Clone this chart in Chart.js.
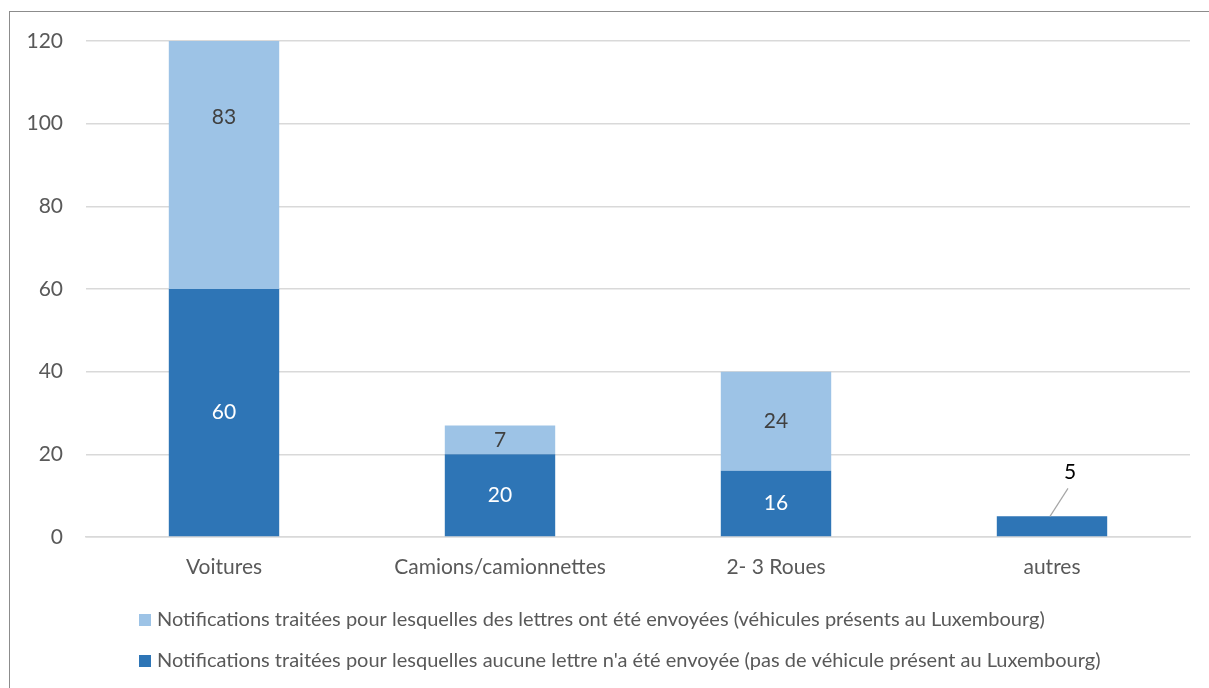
<!DOCTYPE html>
<html>
<head>
<meta charset="utf-8">
<script src="https://cdn.jsdelivr.net/npm/chart.js@4"></script>
<style>
  html, body { margin: 0; padding: 0; background: #fff; }
  #wrap { position: relative; width: 1209px; height: 688px; overflow: hidden; }
  #frame { position: absolute; left: 9px; top: 11px; width: 1300px; height: 800px; border: 1.5px solid #8c8c8c; }
  canvas { position: absolute; left: 0; top: 0; }
</style>
</head>
<body>
<div id="wrap">
  <div id="frame"></div>
  <canvas id="chart" width="1209" height="688"></canvas>
</div>
<script>
// Chart data
const categories = ['Voitures', 'Camions/camionnettes', '2- 3 Roues', 'autres'];
const sansLettre = [60, 20, 16, 5];   // dark blue, bottom of the stack
const avecLettre = [83, 7, 24, 0];    // light blue, top of the stack
const yTicks = [0, 20, 40, 60, 80, 100, 120];

const labelSansLettre = "Notifications traitées pour lesquelles aucune lettre n'a été envoyée (pas de véhicule présent au Luxembourg)";
const labelAvecLettre = 'Notifications traitées pour lesquelles des lettres ont été envoyées (véhicules présents au Luxembourg)';

const FONT = 'Lato, "Open Sans", sans-serif';

// Draws the value labels in the middle of each bar, and moves small ones out with a leader line
const valueLabels = {
    id: 'valueLabels',
    afterDatasetsDraw(chart) {
        const ctx = chart.ctx;
        ctx.save();
        ctx.font = '21px ' + FONT;
        ctx.textAlign = 'center';
        ctx.textBaseline = 'middle';
        chart.data.datasets.forEach((ds, i) => {
            const meta = chart.getDatasetMeta(i);
            meta.data.forEach((bar, j) => {
                const v = ds.data[j];
                if (!v) return;
                const h = Math.abs(bar.base - bar.y);
                const x = bar.x;
                if (h < 24) {
                    // label moved above the bar
                    const tx = x + 18, ty = bar.y - 44;
                    ctx.strokeStyle = '#a6a6a6';
                    ctx.lineWidth = 1.2;
                    ctx.beginPath();
                    ctx.moveTo(x - 2, bar.y);
                    ctx.lineTo(tx - 2, ty + 16);
                    ctx.stroke();
                    ctx.fillStyle = '#000';
                    ctx.fillText(v, tx, ty);
                } else {
                    ctx.fillStyle = ds.labelColor;
                    ctx.fillText(v, x, (bar.y + bar.base) / 2);
                }
            });
        });
        ctx.restore();
    }
};

// Legend in one column, each row left aligned
const columnLegend = {
    id: 'columnLegend',
    afterDraw(chart) {
        const ctx = chart.ctx;
        const order = [1, 0];
        ctx.save();
        ctx.font = '20px ' + FONT;
        ctx.textBaseline = 'middle';
        ctx.textAlign = 'left';
        order.forEach((idx, row) => {
            const ds = chart.data.datasets[idx];
            const y = 620 + row * 41;
            ctx.fillStyle = ds.backgroundColor;
            ctx.fillRect(139, y - 6, 12, 12);
            ctx.fillStyle = '#595959';
            ctx.fillText(ds.label, 157, y);
        });
        ctx.restore();
    }
};

new Chart(document.getElementById('chart'), {
    type: 'bar',
    data: {
        labels: categories,
        datasets: [
            {
                label: labelSansLettre,
                data: sansLettre,
                backgroundColor: '#2e75b6',
                labelColor: '#ffffff',
                barPercentage: 0.4,
                categoryPercentage: 1
            },
            {
                label: labelAvecLettre,
                data: avecLettre,
                backgroundColor: '#9dc3e6',
                labelColor: '#404040',
                barPercentage: 0.4,
                categoryPercentage: 1
            }
        ]
    },
    options: {
        responsive: false,
        animation: false,
        layout: { padding: { top: 41, right: 19, bottom: 101, left: 0 } },
        plugins: {
            legend: { display: false },
            tooltip: { enabled: false }
        },
        scales: {
            x: {
                stacked: true,
                grid: { display: false, drawTicks: false },
                border: { color: '#d9d9d9', width: 1.5 },
                ticks: { color: '#595959', font: { family: FONT, size: 21 }, padding: 18 },
                afterFit(scale) { scale.height = 50; }
            },
            y: {
                stacked: true,
                min: 0,
                max: 120,
                afterBuildTicks(scale) { scale.ticks = yTicks.map(v => ({ value: v })); },
                grid: { color: '#d9d9d9', lineWidth: 1.5, drawTicks: false },
                border: { display: false },
                ticks: { color: '#595959', font: { family: FONT, size: 21 }, padding: 23 },
                afterFit(scale) { scale.width = 86; }
            }
        }
    },
    plugins: [valueLabels, columnLegend]
});
</script>
</body>
</html>
